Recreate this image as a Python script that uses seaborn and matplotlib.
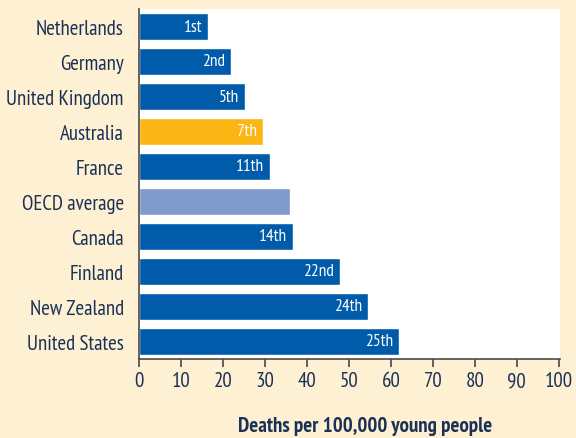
import pandas as pd
import seaborn as sns
import matplotlib.pyplot as plt

# Data
countries = ["Netherlands", "Germany", "United Kingdom", "Australia", "France",
             "OECD average", "Canada", "Finland", "New Zealand", "United States"]
deaths = [16.4, 21.8, 25.3, 29.5, 31.1, 36.0, 36.6, 47.8, 54.5, 61.9]
ranks = ["1st", "2nd", "5th", "7th", "11th", "", "14th", "22nd", "24th", "25th"]

df = pd.DataFrame({"country": countries, "deaths": deaths})

# Colours
bg = "#FEF0D2"
blue = "#005BAA"
text_col = "#1A3157"
palette = {c: blue for c in countries}
palette["Australia"] = "#FBB615"
palette["OECD average"] = "#7F9ACB"

sns.set_style("white")
plt.rcParams["font.family"] = ["PT Sans Narrow", "DejaVu Sans"]

fig = plt.figure(figsize=(5.76, 4.39), dpi=100, facecolor=bg)
ax = fig.add_axes([139 / 576, 1 - 360 / 439, 421 / 576, 350 / 439])
ax.set_facecolor("white")

sns.barplot(data=df, y="country", x="deaths", hue="country", palette=palette,
            order=countries, legend=False, width=0.78, saturation=1, ax=ax)

# Rank labels inside the bar ends
for cont, lab in zip(ax.containers, ranks):
    for bar in cont:
        ax.annotate(lab, (bar.get_width(), bar.get_y() + bar.get_height() / 2),
                    xytext=(-4, 0), textcoords="offset points", ha="right",
                    va="center", color="white", fontsize=12.5)

ax.set_xlim(0, 100.3)
ax.set_ylim(9.5, -0.5)
ax.set_xticks(range(0, 101, 10))
ax.set_ylabel("")
ax.set_xlabel("Deaths per 100,000 young people", fontsize=15, fontweight="bold",
              color=text_col, va="center")
ax.xaxis.set_label_coords(0.537, -0.189)

for s in ["top", "right"]:
    ax.spines[s].set_visible(False)
for s in ["left", "bottom"]:
    ax.spines[s].set_color("#4A4A4A")
    ax.spines[s].set_linewidth(1.2)

ax.tick_params(axis="x", direction="out", length=6, width=1.2, color="#4A4A4A",
               labelsize=15, labelcolor=text_col, pad=3, bottom=True)
ax.tick_params(axis="y", length=0, labelsize=15, labelcolor=text_col, pad=11)

fig.savefig("out.png", dpi=100, facecolor=bg)
